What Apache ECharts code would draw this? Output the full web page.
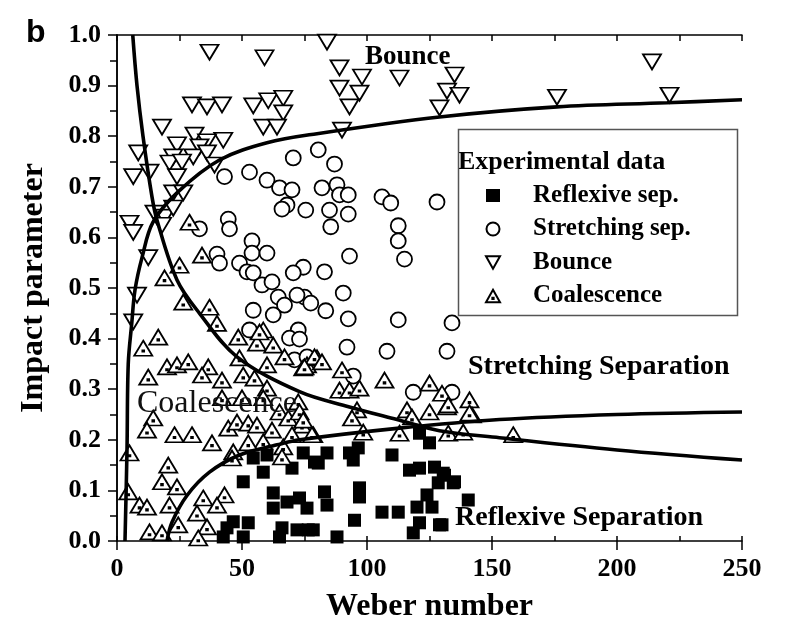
<!DOCTYPE html>
<html>
<head>
<meta charset="utf-8">
<script src="https://cdn.jsdelivr.net/npm/echarts@6/dist/echarts.min.js"></script>
<style>
  html, body { margin: 0; padding: 0; background: #fff; }
  #chart { width: 788px; height: 630px; }
</style>
</head>
<body>
<div id="chart"></div>
<script>
// experimental points [Weber number, impact parameter]
var reflexiveData = [
  [54.5,0.164],[60,0.17],[74.5,0.174],[79,0.156],[58.5,0.136],[70,0.144],[50.5,0.117],[62.5,0.095],
  [68,0.077],[73,0.085],[76,0.065],[62.5,0.065],[52.5,0.036],[46.5,0.038],[44,0.026],[42.5,0.008],
  [50.5,0.008],[66,0.026],[72,0.022],[78.5,0.022],[65,0.008],[121,0.213],[125,0.194],[84,0.174],
  [80.5,0.154],[93,0.174],[96.5,0.184],[94.5,0.16],[110,0.17],[117,0.14],[121,0.144],[127,0.146],
  [131,0.13],[128.5,0.115],[134.5,0.115],[97,0.105],[97,0.087],[83,0.097],[84,0.071],[124,0.091],
  [140.5,0.081],[106,0.057],[112.5,0.057],[120,0.067],[126,0.067],[95,0.041],[121,0.036],[129,0.032],
  [118.5,0.016],[76.5,0.022],[88,0.008],[130.5,0.134],[135,0.117],[130,0.032]
]
var stretchingData = [
  [43,0.72],[53,0.729],[60,0.713],[65,0.698],[70,0.694],[70.5,0.757],[80.5,0.773],[87,0.745],
  [82,0.698],[88,0.704],[89,0.684],[92.5,0.684],[75.5,0.654],[85,0.654],[92.5,0.646],[85.5,0.621],
  [106,0.68],[109.5,0.668],[128,0.67],[112.5,0.623],[112.5,0.593],[115,0.557],[93,0.563],[74.5,0.541],
  [83,0.532],[90.5,0.49],[75,0.482],[77.5,0.47],[83.5,0.455],[92.5,0.439],[112.5,0.437],[134,0.431],
  [68,0.664],[66,0.656],[44.5,0.636],[45,0.617],[33,0.617],[54,0.593],[54,0.569],[60,0.569],
  [40,0.567],[41,0.549],[49,0.549],[52,0.532],[54.5,0.53],[58,0.506],[62,0.512],[70.5,0.53],
  [64.5,0.482],[67,0.466],[72,0.486],[54.5,0.456],[62.5,0.447],[53,0.417],[72.5,0.417],[69,0.401],
  [73,0.399],[71,0.358],[76,0.364],[92,0.383],[108,0.375],[132,0.375],[94.5,0.326],[118.5,0.294],
  [134,0.294]
]
var bounceData = [
  [37,0.966],[59,0.955],[30,0.862],[36,0.858],[42,0.862],[54.5,0.86],[60.5,0.87],[66.5,0.875],
  [66.5,0.846],[58.5,0.818],[64,0.818],[18,0.818],[31,0.802],[42.5,0.792],[24,0.783],[36,0.789],
  [33,0.779],[8.5,0.767],[22.5,0.759],[30.5,0.759],[36,0.767],[21,0.747],[26,0.749],[13,0.729],
  [6.5,0.72],[24,0.72],[39,0.743],[22.5,0.688],[26.5,0.688],[5,0.628],[6.5,0.61],[12.5,0.56],
  [8,0.486],[6.5,0.433],[15,0.648],[19,0.64],[18,0.624],[22.5,0.658],[84,0.986],[89,0.935],
  [98,0.917],[113,0.915],[135,0.921],[89,0.895],[97,0.885],[93,0.858],[132,0.889],[137,0.881],
  [129,0.856],[90,0.812],[214,0.947],[176,0.877],[221,0.881]
]
var coalescenceData = [
  [29,0.63],[34,0.565],[25,0.545],[19,0.52],[26.5,0.472],[37,0.462],[40,0.43],[16.5,0.403],
  [10.5,0.381],[48.5,0.403],[58.5,0.417],[56,0.391],[62.5,0.387],[49,0.362],[67,0.364],[20,0.344],
  [24,0.348],[28.5,0.354],[36.5,0.344],[60,0.348],[76,0.348],[80,0.362],[57,0.413],[12.5,0.324],
  [34,0.328],[42,0.318],[50.5,0.328],[55,0.322],[74.5,0.342],[60,0.302],[42,0.283],[50,0.283],
  [58.5,0.283],[72.5,0.275],[14.5,0.243],[12,0.219],[23,0.21],[30,0.21],[38,0.194],[44.5,0.223],
  [48,0.235],[52.5,0.233],[56,0.229],[62,0.219],[65,0.255],[68.5,0.243],[73,0.255],[74,0.229],
  [78.5,0.21],[70,0.21],[58.5,0.196],[52.5,0.194],[46.5,0.176],[66.5,0.186],[66,0.166],[46,0.164],
  [5,0.174],[20.5,0.15],[18,0.117],[24,0.107],[4.5,0.097],[9,0.071],[12,0.067],[21,0.071],
  [34.5,0.085],[43,0.091],[40,0.071],[32,0.055],[24.5,0.032],[36,0.028],[13,0.018],[18,0.016],
  [32.5,0.006],[79,0.364],[82,0.354],[75,0.344],[90,0.338],[107,0.318],[125,0.312],[89,0.298],
  [93,0.298],[97,0.302],[130,0.292],[141,0.279],[96,0.259],[94,0.243],[116,0.259],[118,0.245],
  [125,0.255],[132,0.265],[142,0.249],[74.5,0.239],[98.5,0.215],[113,0.213],[132.5,0.213],
  [138.5,0.215],[78,0.21],[132.5,0.269],[141,0.253],[158.5,0.21]
]

// regime boundaries
var bounceCurve = [
  [3.2,0],[4,0.18],[4.5,0.35],[5.9,0.43],[7.2,0.496],[10,0.56],[14.4,0.63],[24.4,0.69],
  [41,0.753],[60,0.787],[80,0.805],[129,0.838],[176,0.858],[220,0.866],[250,0.872]
]
var stretchingCurve = [
  [6.3,1.0],[8,0.9],[10.4,0.8],[14,0.68],[16,0.634],[24,0.516],[33,0.45],[48,0.364],
  [73,0.295],[93,0.265],[112,0.24],[129,0.218],[153,0.204],[200,0.18],[250,0.16]
]
var reflexiveCurve = [
  [20,0],[22,0.037],[28,0.09],[37,0.136],[49,0.17],[64,0.19],[73,0.2],[113,0.223],
  [153,0.24],[200,0.25],[250,0.255]
]

var serif = '"Liberation Serif", "Times New Roman", serif'
var upTri = 'path://M10,1L19,17L1,17Z M9.2,11.2L10.8,11.2L10.8,12.8L9.2,12.8Z'
var downTri = 'path://M1,1L19,1L10,17Z'

var myChart = echarts.init(document.getElementById('chart'))

function markerStyle(fill) {
  return { color: fill, borderColor: '#000', borderWidth: 1.8, opacity: 1 }
}
function curve(data) {
  return {
    type: 'line', data: data, smooth: 0.35, showSymbol: false, symbol: 'none',
    lineStyle: { color: '#000', width: 3.6 }, z: 4, silent: true, animation: false
  }
}

var option = {
  animation: false,
  grid: { left: 117, right: 46, top: 35, bottom: 89 },
  legend: {
    orient: 'vertical', left: 485, top: 183, padding: 0,
    itemWidth: 14, itemHeight: 13, itemGap: 8.5,
    textStyle: { fontFamily: serif, fontWeight: 'bold', fontSize: 25, color: '#000', lineHeight: 24, padding: [0, 0, 0, 28] },
    data: ['Reflexive sep.', 'Stretching sep.', 'Bounce', 'Coalescence']
  },
  xAxis: [{
    type: 'value', min: 0, max: 250, interval: 50, position: 'bottom',
    name: 'Weber number', nameLocation: 'middle', nameGap: 50,
    nameTextStyle: { fontFamily: serif, fontWeight: 'bold', fontSize: 32, color: '#000' },
    axisLine: { lineStyle: { color: '#000', width: 1.5 } },
    axisTick: { length: 9, lineStyle: { color: '#000', width: 1.5 } },
    axisLabel: { margin: 15, fontFamily: serif, fontWeight: 'bold', fontSize: 26, color: '#000' },
    splitLine: { show: false }
  }, {
    type: 'value', min: 0, max: 250, interval: 25, position: 'bottom',
    axisLine: { show: false },
    axisTick: { inside: true, length: 5, lineStyle: { color: '#000', width: 1.5 } },
    axisLabel: { show: false }, splitLine: { show: false }
  }, {
    type: 'value', min: 0, max: 250, interval: 25, position: 'top',
    axisLine: { lineStyle: { color: '#000', width: 1.5 } },
    axisTick: { inside: true, length: 6, lineStyle: { color: '#000', width: 1.5 } },
    axisLabel: { show: false }, splitLine: { show: false }
  }],
  yAxis: [{
    type: 'value', min: 0, max: 1, interval: 0.1, position: 'left',
    name: 'Impact parameter', nameLocation: 'middle', nameGap: 67,
    nameTextStyle: { fontFamily: serif, fontWeight: 'bold', fontSize: 32, color: '#000' },
    axisLine: { lineStyle: { color: '#000', width: 1.5 } },
    axisTick: { length: 9, lineStyle: { color: '#000', width: 1.5 } },
    minorTick: { show: true, splitNumber: 2, length: 4, lineStyle: { color: '#000', width: 1.5 } },
    axisLabel: {
      margin: 16, fontFamily: serif, fontWeight: 'bold', fontSize: 26, color: '#000',
      formatter: function (v) { return v.toFixed(1) }
    },
    splitLine: { show: false }, minorSplitLine: { show: false }
  }, {
    type: 'value', min: 0, max: 1, interval: 0.05, position: 'right',
    axisLine: { lineStyle: { color: '#000', width: 1.5 } },
    axisTick: { inside: true, length: 7, lineStyle: { color: '#000', width: 1.5 } },
    axisLabel: { show: false }, splitLine: { show: false }
  }],
  graphic: [
    { type: 'rect', left: 456, top: 127, shape: { width: 279, height: 186 },
      style: { fill: 'none', stroke: '#555', lineWidth: 1.5 }, z: 1 },
    { type: 'text', left: 458, top: 149,
      style: { text: 'Experimental data', font: 'bold 26px ' + serif, fill: '#000' } },
    { type: 'text', left: 26, top: 17,
      style: { text: 'b', font: 'bold 32px "Liberation Sans", Arial, sans-serif', fill: '#000' } },
    { type: 'text', left: 365, top: 44, z: 10,
      style: { text: 'Bounce', font: 'bold 27px ' + serif, fill: '#000' } },
    { type: 'text', left: 468, top: 353, z: 10,
      style: { text: 'Stretching Separation', font: 'bold 28px ' + serif, fill: '#000' } },
    { type: 'text', left: 455, top: 504, z: 10,
      style: { text: 'Reflexive Separation', font: 'bold 28px ' + serif, fill: '#000' } },
    { type: 'text', left: 137, top: 388, z: 10,
      style: { text: 'Coalescence', font: '32px ' + serif, fill: '#111' } }
  ],
  series: [{
    name: 'Reflexive sep.', type: 'scatter', data: reflexiveData,
    symbol: 'rect', symbolSize: 13, itemStyle: { color: '#000', borderWidth: 0, opacity: 1 }
  }, {
    name: 'Stretching sep.', type: 'scatter', data: stretchingData,
    symbol: 'circle', symbolSize: 15, itemStyle: markerStyle('#fff')
  }, {
    name: 'Bounce', type: 'scatter', data: bounceData,
    symbol: downTri, symbolSize: [18, 15], itemStyle: markerStyle('#fff')
  }, {
    name: 'Coalescence', type: 'scatter', data: coalescenceData,
    symbol: upTri, symbolSize: [18, 15], itemStyle: markerStyle('#fff')
  },
  curve(bounceCurve), curve(stretchingCurve), curve(reflexiveCurve)
  ]
}

myChart.setOption(option)
</script>
</body>
</html>
